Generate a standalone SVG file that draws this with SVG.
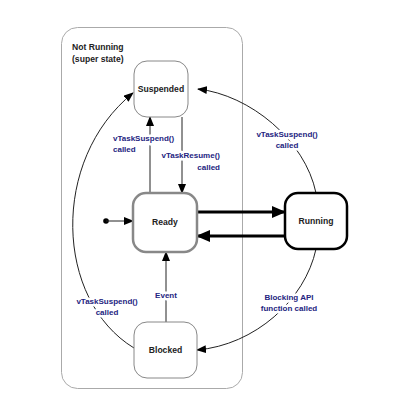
<svg xmlns="http://www.w3.org/2000/svg" width="420" height="420" viewBox="0 0 420 420">
<defs>
<marker id="ah" markerUnits="userSpaceOnUse" markerWidth="10" markerHeight="8" refX="9" refY="4" orient="auto"><path d="M0,0 L10,4 L0,8 Z" fill="#000"/></marker>
<marker id="ahb" markerUnits="userSpaceOnUse" markerWidth="14" markerHeight="12" refX="13" refY="6" orient="auto"><path d="M0,0 L14,6 L0,12 Z" fill="#000"/></marker>
</defs>
<style>
.node{fill:#fff}
.nl{font-family:"Liberation Sans",Arial,sans-serif;font-weight:bold;font-size:8.6px;fill:#222;text-anchor:middle}
.el{font-family:"Liberation Sans",Arial,sans-serif;font-weight:bold;font-size:8px;fill:#24247f;paint-order:stroke;stroke:#fff;stroke-width:5px;stroke-linejoin:round}
.c{fill:none;stroke:#222;stroke-width:1;marker-end:url(#ah)}
.thick{fill:none;stroke:#000;stroke-width:3.2;marker-end:url(#ahb)}
</style>
<rect width="420" height="420" fill="#fff"/>
<g id="superstate">
<rect x="61.5" y="27.5" width="181" height="361" rx="16" fill="none" stroke="#aaa" stroke-width="1"/>
<text class="nl" x="72" y="50" style="text-anchor:start">Not Running</text>
<text class="nl" x="72" y="62" style="text-anchor:start">(super state)</text>
</g>
<g id="connectors">
<circle cx="106" cy="221" r="2.8" fill="#000"/>
<line class="c" x1="106" y1="221" x2="133" y2="221"/>
<line class="c" x1="150" y1="193" x2="150" y2="117"/>
<line class="c" x1="182" y1="117" x2="182" y2="193"/>
<line class="c" x1="166" y1="322" x2="166" y2="252"/>
<line class="thick" x1="197" y1="212" x2="285" y2="212"/>
<line class="thick" x1="285" y1="236" x2="197" y2="236"/>
<path class="c" d="M134,348 C55,300 50,160 133,93"/>
<path class="c" d="M316,193 C305,140 250,95 198,89"/>
<path class="c" d="M316,249 C305,300 255,345 197,350"/>
<text class="el" x="113" y="141">vTaskSuspend()</text>
<text class="el" x="113" y="152">called</text>
<text class="el" x="220" y="158" text-anchor="end">vTaskResume()</text>
<text class="el" x="220" y="170" text-anchor="end">called</text>
<text class="el" x="287" y="137" text-anchor="middle">vTaskSuspend()</text>
<text class="el" x="287" y="148" text-anchor="middle">called</text>
<text class="el" x="289" y="300" text-anchor="middle">Blocking API</text>
<text class="el" x="289" y="311" text-anchor="middle">function called</text>
<text class="el" x="107" y="304" text-anchor="middle">vTaskSuspend()</text>
<text class="el" x="107" y="315" text-anchor="middle">called</text>
<text class="el" x="166" y="298" text-anchor="middle">Event</text>
</g>
<g id="suspended">
<rect class="node" x="134" y="61" width="54" height="56" rx="13" stroke="#888" stroke-width="1"/>
<text class="nl" x="161" y="92">Suspended</text>
</g>
<g id="ready">
<rect class="node" x="133" y="193" width="64" height="59" rx="13" stroke="#888" stroke-width="2.5"/>
<text class="nl" x="165" y="225">Ready</text>
</g>
<g id="running">
<rect class="node" x="285" y="193" width="62" height="56" rx="13" stroke="#000" stroke-width="2.5"/>
<text class="nl" x="316" y="224">Running</text>
</g>
<g id="blocked">
<rect class="node" x="134" y="322" width="63" height="56" rx="13" stroke="#888" stroke-width="1"/>
<text class="nl" x="165.5" y="353">Blocked</text>
</g>
</svg>
